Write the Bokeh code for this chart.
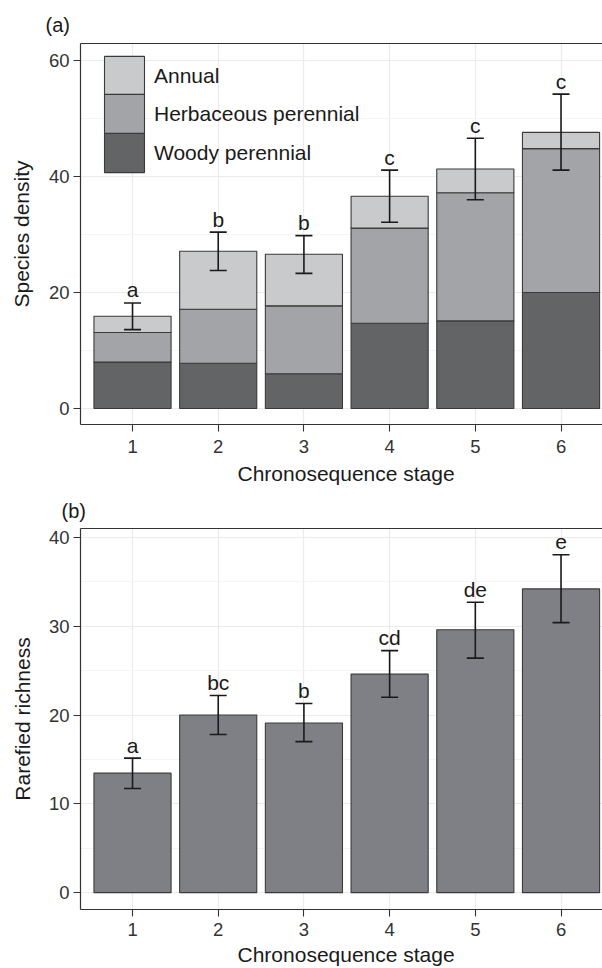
from bokeh.plotting import figure
from bokeh.models import (ColumnDataSource, FixedTicker, Range1d, Whisker, TeeHead,
                          Legend, LegendItem, LinearAxis, Title)
from bokeh.layouts import column
from bokeh.embed import file_html
from bokeh.resources import INLINE
from bokeh.core.properties import value

# ---------------- data ----------------
stages = [1, 2, 3, 4, 5, 6]
stage_ticks = ["1", "2", "3", "4", "5", "6"]

# panel (a): species density, stacked by life form
woody = [8.0, 7.8, 6.0, 14.7, 15.1, 20.0]
herbaceous = [5.1, 9.3, 11.7, 16.4, 22.1, 24.8]
annual = [2.8, 10.0, 8.9, 5.5, 4.1, 2.8]
density_lower = [13.6, 23.8, 23.3, 32.1, 36.0, 41.1]
density_upper = [18.2, 30.4, 29.8, 41.1, 46.6, 54.2]
density_letters = ["a", "b", "b", "c", "c", "c"]
density_ticks = [0, 20, 40, 60]
density_minor = [10, 30, 50]

# panel (b): rarefied richness
richness = [13.45, 20.0, 19.1, 24.6, 29.6, 34.2]
richness_lower = [11.73, 17.8, 17.0, 22.0, 26.4, 30.4]
richness_upper = [15.14, 22.2, 21.3, 27.25, 32.7, 38.05]
richness_letters = ["a", "bc", "b", "cd", "de", "e"]
richness_ticks = [0, 10, 20, 30, 40]
richness_minor = [5, 15, 25, 35]

X_TITLE = "Chronosequence stage"
legend_labels = ["Annual", "Herbaceous perennial", "Woody perennial"]

FONT = "Liberation Sans"
C_ANNUAL = "#c9cacc"
C_HERB = "#a3a4a8"
C_WOODY = "#636466"
C_RICH = "#7f8085"
C_EDGE = "#3a3a3a"
C_INK = "#1a1a1a"

X0, X1 = 0.393, 6.484


def base_fig(height, y0, y1, b_top, b_bottom, title, t_off, t_stand, ylab, ticks, minor,
             tick_stand, ylab_stand, xt_stand):
    p = figure(width=602, height=height,
               x_range=Range1d(X0, X1), y_range=Range1d(y0, y1),
               output_backend="svg", toolbar_location=None,
               min_border_left=80, min_border_right=0,
               min_border_top=b_top, min_border_bottom=b_bottom,
               title=title, outline_line_color=None,
               background_fill_color="white", border_fill_color="white")
    p.title.align = "left"
    p.title.offset = t_off
    p.title.text_font = FONT
    p.title.text_font_size = "20px"
    p.title.text_font_style = "normal"
    p.title.text_color = C_INK
    p.title.standoff = t_stand

    p.xaxis.ticker = FixedTicker(ticks=stages)
    p.xaxis.major_label_overrides = {s: t for s, t in zip(stages, stage_ticks)}
    p.yaxis.ticker = FixedTicker(ticks=ticks, minor_ticks=minor)
    p.yaxis.axis_label = ylab
    for ax in (p.xaxis[0], p.yaxis[0]):
        ax.major_tick_out = 7
        ax.major_tick_in = 0
        ax.minor_tick_line_color = None
        ax.axis_line_color = "#333333"
        ax.axis_line_width = 1.2
        ax.major_tick_line_color = "#333333"
        ax.major_tick_line_width = 1.1
        ax.major_label_text_font = FONT
        ax.major_label_text_font_size = "18.5px"
        ax.major_label_text_color = "#333333"
        ax.major_label_standoff = 4
        ax.axis_label_text_font = FONT
        ax.axis_label_text_font_size = "21px"
        ax.axis_label_text_font_style = "normal"
        ax.axis_label_text_color = C_INK
    p.xaxis.major_label_standoff = tick_stand
    p.yaxis.axis_label_standoff = ylab_stand

    # x-axis title, placed below the axis like the source figure
    xt = Title(text=X_TITLE, align="left", offset=157, standoff=xt_stand,
               text_font=FONT, text_font_size="21px", text_font_style="normal",
               text_color=C_INK)
    p.add_layout(xt, "below")

    top = LinearAxis(ticker=FixedTicker(ticks=[]), major_label_text_font_size="0px",
                     major_tick_line_color=None, minor_tick_line_color=None,
                     major_tick_out=0, major_tick_in=0, major_label_standoff=0,
                     axis_line_color="#333333", axis_line_width=1.2)
    p.add_layout(top, "above")

    p.xgrid.grid_line_color = "#ebebeb"
    p.xgrid.grid_line_width = 1.2
    p.ygrid.grid_line_color = "#ebebeb"
    p.ygrid.grid_line_width = 1.2
    p.ygrid.minor_grid_line_color = "#f4f4f4"
    p.ygrid.minor_grid_line_width = 1.2
    return p


def add_errors(p, src):
    w = Whisker(base="stage", upper="hi", lower="lo", source=src, level="overlay",
                line_color=C_INK, line_width=1.6,
                upper_head=TeeHead(size=17, line_color=C_INK, line_width=1.6),
                lower_head=TeeHead(size=17, line_color=C_INK, line_width=1.6))
    p.add_layout(w)
    p.text(x="stage", y="hi", text="letter", source=src, text_align="center",
           text_baseline="alphabetic", y_offset=-13, text_font=value(FONT),
           text_font_size=value("21px"), text_color=C_INK, level="overlay")


# ---------------- panel (a) ----------------
pa = base_fig(491, -2.76, 62.93, 43, 67, "(a)", -35, 15, "Species density",
              density_ticks, density_minor, 8, 13, 9)
src_a = ColumnDataSource(dict(stage=stages, woody=woody, herb=herbaceous, annual=annual,
                              lo=density_lower, hi=density_upper, letter=density_letters))
rs = pa.vbar_stack(["woody", "herb", "annual"], x="stage", width=0.9, source=src_a,
                   color=[C_WOODY, C_HERB, C_ANNUAL], line_color=C_EDGE, line_width=1.1)
add_errors(pa, src_a)
# one single-item legend per key so that the keys touch like the source legend
for lab, rend, ypos in zip(legend_labels, [rs[2], rs[1], rs[0]], [324, 286, 247]):
    lg = Legend(items=[LegendItem(label=lab, renderers=[rend])],
                location=(19, ypos), glyph_width=50, glyph_height=49, label_height=39,
                label_standoff=5, spacing=0, padding=0, margin=0,
                border_line_color=None, background_fill_alpha=0,
                label_text_font=FONT, label_text_font_size="21px",
                label_text_color=C_INK)
    pa.add_layout(lg)

# ---------------- panel (b) ----------------
pb = base_fig(477, -1.9, 41.0, 37, 59, "(b)", -19, 13, "Rarefied richness",
              richness_ticks, richness_minor, 6, 12, 5)
src_b = ColumnDataSource(dict(stage=stages, rich=richness, lo=richness_lower,
                              hi=richness_upper, letter=richness_letters))
pb.vbar(x="stage", top="rich", bottom=0, width=0.9, source=src_b,
        fill_color=C_RICH, line_color=C_EDGE, line_width=1.1)
add_errors(pb, src_b)

layout = column(pa, pb, spacing=0)
open("out.html", "w").write(file_html(layout, INLINE))
